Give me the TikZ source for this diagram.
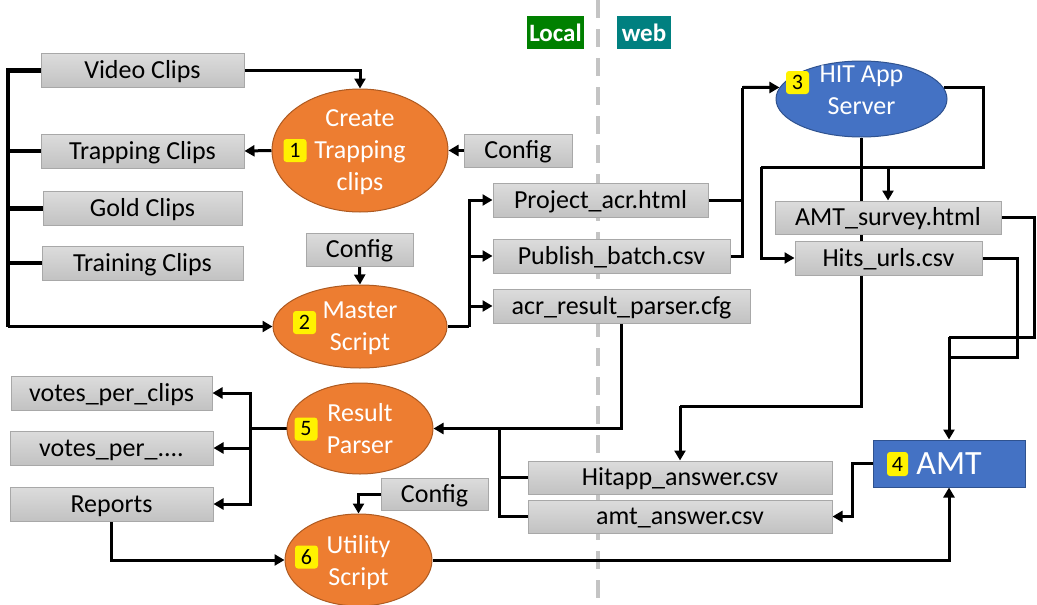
\documentclass[tikz,border=0pt]{standalone}
\usepackage{fontspec}
\setmainfont{Carlito}
\usepackage{xcolor}
\definecolor{Col1}{RGB}{237,125,49}
\definecolor{Col2}{RGB}{174,90,33}
\definecolor{Col3}{RGB}{68,114,196}
\definecolor{Col4}{RGB}{47,82,143}
\definecolor{BoxTop}{RGB}{220,220,220}
\definecolor{BoxBot}{RGB}{194,194,194}
\definecolor{BoxLine}{RGB}{168,168,168}
\definecolor{Dash}{RGB}{196,196,196}
\usepackage{tikz}
\usetikzlibrary{shapes}
\usetikzlibrary{arrows.meta}
\usetikzlibrary{backgrounds}
\tikzstyle{Box}=[draw=BoxLine,top color=BoxTop,bottom color=BoxBot,line width=1pt,
inner sep=0pt,minimum height=34pt,text height=20pt,text depth=3.5pt,
font=\fontsize{26}{31}\selectfont]
\tikzstyle{Proc}=[ellipse,draw=Col2,fill=Col1,line width=1pt,inner sep=0pt,
text=white,align=center,text depth=-1pt,font=\fontsize{26}{32}\selectfont]
\tikzstyle{Web}=[draw=Col4,fill=Col3,line width=1pt,inner sep=0pt,text=white]
\tikzstyle{Badge}=[fill=yellow,rounded corners=3pt,inner sep=0pt,minimum width=23pt,
minimum height=23pt,font=\fontsize{22}{22}\selectfont]
\tikzstyle{Tag}=[text=white,inner sep=0pt,minimum height=33pt,
font=\bfseries\fontsize{25}{25}\selectfont]
\tikzstyle{Edge}=[draw=black,line width=3pt]
\tikzstyle{Bus}=[draw=black,line width=4.5pt]
\tikzstyle{Arrow}=[Edge,-{Triangle[length=10pt,width=11pt]}]

\begin{document}
\begin{tikzpicture}[x=1pt,y=1pt]
        \useasboundingbox(0,0)rectangle(1037,-605);
        % local side
        \node[Box,minimum width=203pt](Video)at(142.50,-70.50){Video Clips};
        \node[Box,minimum width=203pt](Trap)at(142.50,-151.00){Trapping Clips};
        \node[Box,minimum width=199pt](Gold)at(142.50,-208.50){Gold Clips};
        \node[Box,minimum width=201pt](Train)at(142.50,-263.00){Training Clips};
        \node[Proc,minimum width=176pt,minimum height=123pt](Create)at(360.00,-150.50){Create\\Trapping\\clips};
        \node[Box,minimum width=108pt,minimum height=33pt](Cfg1)at(518.00,-150.50){Config};
        \node[Box,minimum width=107pt,minimum height=33pt](Cfg2)at(359.50,-249.50){Config};
        \node[Proc,minimum width=174pt,minimum height=83pt](Master)at(360.00,-326.50){Master\\Script};
        \node[Box,minimum width=215pt](Proj)at(600.50,-200.00){Project\_acr.html};
        \node[Box,minimum width=237pt](Pub)at(611.50,-256.00){Publish\_batch.csv};
        \node[Box,minimum width=257pt](Parse)at(621.50,-306.00){acr\_result\_parser.cfg};
        \node[Proc,minimum width=146pt,minimum height=91pt](Result)at(360.00,-428.50){Result\\Parser};
        \node[Box,minimum width=201pt](VClips)at(111.50,-393.00){votes\_per\_clips};
        \node[Box,minimum width=203pt](VEtc)at(111.50,-448.00){votes\_per\_....};
        \node[Box,minimum width=203pt](Reports)at(111.50,-504.00){Reports};
        \node[Box,minimum width=107pt,minimum height=32pt](Cfg3)at(434.50,-494.00){Config};
        \node[Proc,minimum width=147pt,minimum height=92pt](Util)at(358.50,-560.00){Utility\\Script};
        % web side
        \node[Web,ellipse,minimum width=171pt,minimum height=76pt,
            label={[text=white,align=center,yshift=8.5pt,font=\fontsize{26}{32}\selectfont]center:HIT App\\Server}](HIT)at(861.50,-99.00){};
        \node[Box,minimum width=226pt,minimum height=33pt](Survey)at(888.00,-217.50){AMT\_survey.html};
        \node[Box,minimum width=187pt](Hits)at(888.50,-258.00){Hits\_urls.csv};
        \node[Box,minimum width=304pt,minimum height=33pt](Hitapp)at(680.00,-477.50){Hitapp\_answer.csv};
        \node[Box,minimum width=304pt,minimum height=33pt](AmtAns)at(680.00,-516.50){amt\_answer.csv};
        \node[Web,minimum width=152pt,minimum height=47pt,font=\fontsize{34}{34}\selectfont](AMT)at(949.00,-463.50){AMT};
        % step numbers
        \node[Badge](b1)at(295.00,-150.50){1};
        \node[Badge](b2)at(304.50,-322.50){2};
        \node[Badge](b3)at(797.50,-82.50){3};
        \node[Badge,minimum width=21pt,minimum height=24pt](b4)at(897.50,-464.00){4};
        \node[Badge](b5)at(306.00,-429.00){5};
        \node[Badge](b6)at(306.50,-557.00){6};
        \node[Tag,fill=green!50!black,minimum width=57pt](Local)at(555.50,-32.50){Local};
        \node[Tag,fill=teal,minimum width=54pt](WebTag)at(644.00,-32.50){web};
        % joints
        \coordinate(Bus)at(8.00,-326.50);
        \coordinate(MJ)at(469.00,-326.50);
        \coordinate(HJ)at(742.00,-87.50);
        \coordinate(H2)at(983.00,-167.00);
        \coordinate(H3)at(761.00,-167.00);
        \coordinate(H4)at(680.00,-406.00);
        \coordinate(S1)at(1034.00,-337.00);
        \coordinate(S2)at(1017.00,-357.00);
        \coordinate(RJ)at(499.00,-428.50);
        \coordinate(OJ)at(250.00,-428.50);
        \coordinate(D1)at(598.00,0.00);
        \coordinate(D2)at(598.00,-605.00);
        \begin{scope}[on background layer]
        \draw[Dash,line width=4pt,dash pattern=on 18pt off 11pt](D1)--(D2);
        \draw[Bus](Video.west)-|(Bus);
        \draw[Bus](Trap.west)-|(Bus);
        \draw[Bus](Gold.west)-|(Bus);
        \draw[Bus](Train.west)-|(Bus);
        \draw[Arrow](Bus)--(Master.west);
        \draw[Arrow](Video.east)-|(Create.north);
        \draw[Arrow](Create.west)--(Trap.east);
        \draw[Arrow](Cfg1.west)--(Create.east);
        \draw[Arrow](Cfg2.south)--(Master.north);
        \draw[Edge](Master.east)--(MJ);
        \draw[Arrow](MJ)|-(Proj.west);
        \draw[Arrow](MJ)|-(Pub.west);
        \draw[Arrow](MJ)|-(Parse.west);
        \draw[Edge](Proj.east)-|(HJ);
        \draw[Edge](Pub.east)-|(HJ);
        \draw[Arrow](HJ)--(HIT.172);
        \draw[Edge](HIT.8)-|(H2)--(H3);
        \draw[Arrow](H3)|-(Hits.west);
        \draw[Arrow](Survey.north|-H2)--(Survey.north);
        \draw[Edge](HIT.south)|-(H4);
        \draw[Arrow](H4)--(Hitapp.north);
        \draw[Edge](Survey.east)-|(S1)--(AMT.north|-S1);
        \draw[Edge](Hits.east)-|(S2)--(AMT.north|-S2);
        \draw[Arrow](AMT.north|-S1)--(AMT.north);
        \draw[Arrow](AMT.west)--++(-20,0)|-(AmtAns.east);
        \draw[Arrow](Util.east)-|(AMT.south);
        \draw[Arrow](Parse.south)|-(Result.east);
        \draw[Edge](Hitapp.west)-|(RJ);
        \draw[Edge](AmtAns.west)-|(RJ);
        \draw[Edge](Result.west)--(OJ);
        \draw[Arrow](OJ)|-(VClips.east);
        \draw[Arrow](OJ)|-(VEtc.east);
        \draw[Arrow](OJ)|-(Reports.east);
        \draw[Arrow](Reports.south)|-(Util.west);
        \draw[Arrow](Cfg3.west)-|(Util.north);
        \end{scope}
    \end{tikzpicture}
\end{document}
